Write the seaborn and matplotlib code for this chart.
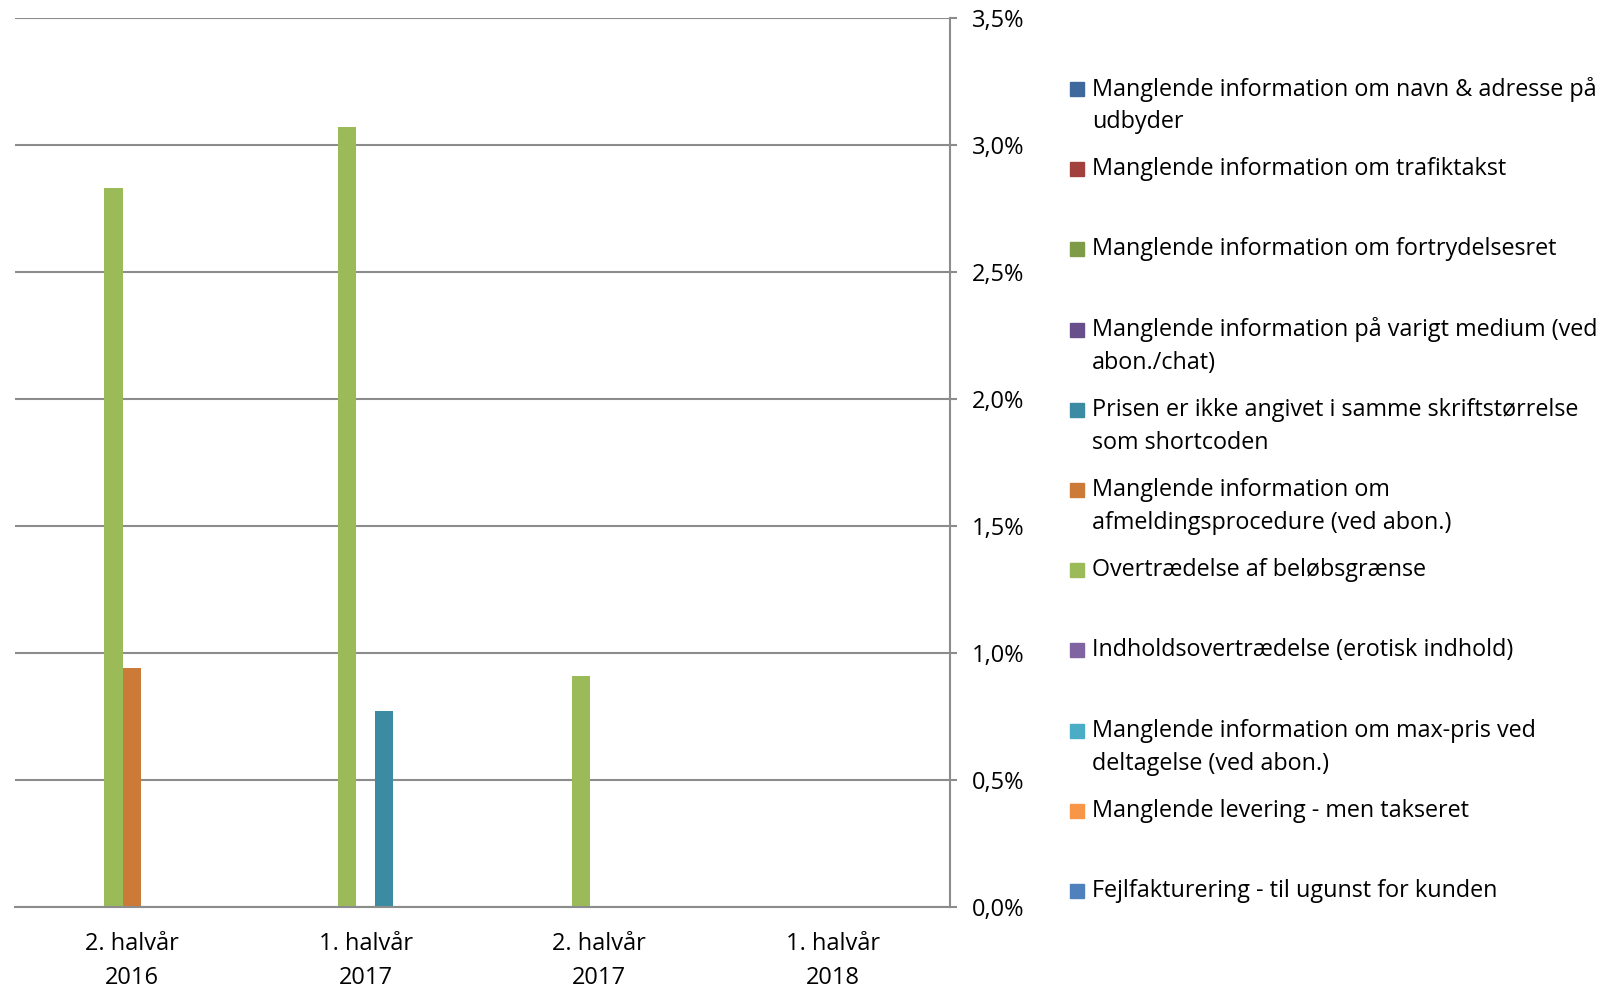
import matplotlib
matplotlib.use("Agg")
import matplotlib.pyplot as plt
import matplotlib.patches as mpatches
from matplotlib.ticker import FuncFormatter, FixedLocator
import seaborn as sns
import pandas as pd

# ── Data ─────────────────────────────────────────────────────
periods = ["2. halvår\n2016", "1. halvår\n2017", "2. halvår\n2017", "1. halvår\n2018"]

series = [
    "Manglende information om navn & adresse på\nudbyder",
    "Manglende information om trafiktakst",
    "Manglende information om fortrydelsesret",
    "Manglende information på varigt medium (ved\nabon./chat)",
    "Prisen er ikke angivet i samme skriftstørrelse\nsom shortcoden",
    "Manglende information om\nafmeldingsprocedure (ved abon.)",
    "Overtrædelse af beløbsgrænse",
    "Indholdsovertrædelse (erotisk indhold)",
    "Manglende information om max-pris ved\ndeltagelse (ved abon.)",
    "Manglende levering - men takseret",
    "Fejlfakturering - til ugunst for kunden",
]

colors = ["#3F699C", "#A2403D", "#7E9B48", "#684F8C", "#3B8CA3", "#CC7A38",
          "#9BBB59", "#8064A2", "#4BACC6", "#F79646", "#4F81BD"]

# percent per period, one list per series
values = [
    [0.0, 0.0, 0.0, 0.0],
    [0.0, 0.0, 0.0, 0.0],
    [0.0, 0.0, 0.0, 0.0],
    [0.0, 0.0, 0.0, 0.0],
    [0.0, 0.77, 0.0, 0.0],
    [0.94, 0.0, 0.0, 0.0],
    [2.83, 3.07, 0.91, 0.0],
    [0.0, 0.0, 0.0, 0.0],
    [0.0, 0.0, 0.0, 0.0],
    [0.0, 0.0, 0.0, 0.0],
    [0.0, 0.0, 0.0, 0.0],
]

yticks = [0.0, 0.5, 1.0, 1.5, 2.0, 2.5, 3.0, 3.5]

# ── Style ────────────────────────────────────────────────────
GRID = "#8C8C8C"
FONT = "Open Sans"
W, H = 1608, 988

sns.set_style("white")
plt.rcParams["font.family"] = [FONT, "DejaVu Sans"]

rows = []
for name, vals in zip(series, values):
    for p, v in zip(periods, vals):
        rows.append({"periode": p, "type": name, "andel": v})
df = pd.DataFrame(rows)

fig = plt.figure(figsize=(W / 100, H / 100), dpi=100)
ax = fig.add_axes([15 / W, 1 - 907 / H, (950 - 15) / W, (907 - 18) / H])

# Excel draws the series in reverse order inside each cluster
sns.barplot(data=df, x="periode", y="andel", hue="type",
            hue_order=series[::-1], order=periods,
            palette=dict(zip(series, colors)), width=0.87,
            linewidth=0, saturation=1, legend=False, ax=ax)

ax.set_xlim(-0.5, len(periods) - 0.5)
ax.set_ylim(0, 3.5)
ax.set_xlabel("")
ax.set_ylabel("")

ax.yaxis.tick_right()
ax.set_yticks(yticks)
ax.yaxis.set_major_formatter(FuncFormatter(lambda v, _: f"{v:.1f}%".replace(".", ",")))
ax.tick_params(axis="y", length=5, width=1.5, color=GRID, pad=11,
               labelsize=17, labelcolor="black")
ax.grid(axis="y", color=GRID, linewidth=1.5)
ax.set_axisbelow(True)

ax.xaxis.set_minor_locator(FixedLocator([i - 0.5 for i in range(len(periods) + 1)]))
ax.tick_params(axis="x", which="minor", length=6, width=1.5, color=GRID)
ax.tick_params(axis="x", which="major", length=0, pad=18, labelsize=17,
               labelcolor="black")
for lbl in ax.get_xticklabels():
    lbl.set_linespacing(1.55)

for side in ["left", "top"]:
    ax.spines[side].set_visible(False)
for side in ["bottom", "right"]:
    ax.spines[side].set_color(GRID)
    ax.spines[side].set_linewidth(1.5)

# ── Legend (Excel style, evenly spaced entries) ─────────────
for i, (name, col) in enumerate(zip(series, colors)):
    yc = 89 + i * 80.2
    fig.patches.append(mpatches.Rectangle((1070 / W, 1 - (yc + 7) / H), 14 / W, 14 / H,
                                          transform=fig.transFigure, color=col))
    for k, line in enumerate(name.split("\n")):
        fig.text(1092 / W, 1 - (yc + k * 33) / H, line, fontsize=16.8,
                 va="center", ha="left", color="black")

fig.savefig("out.png", dpi=100, facecolor="white")
